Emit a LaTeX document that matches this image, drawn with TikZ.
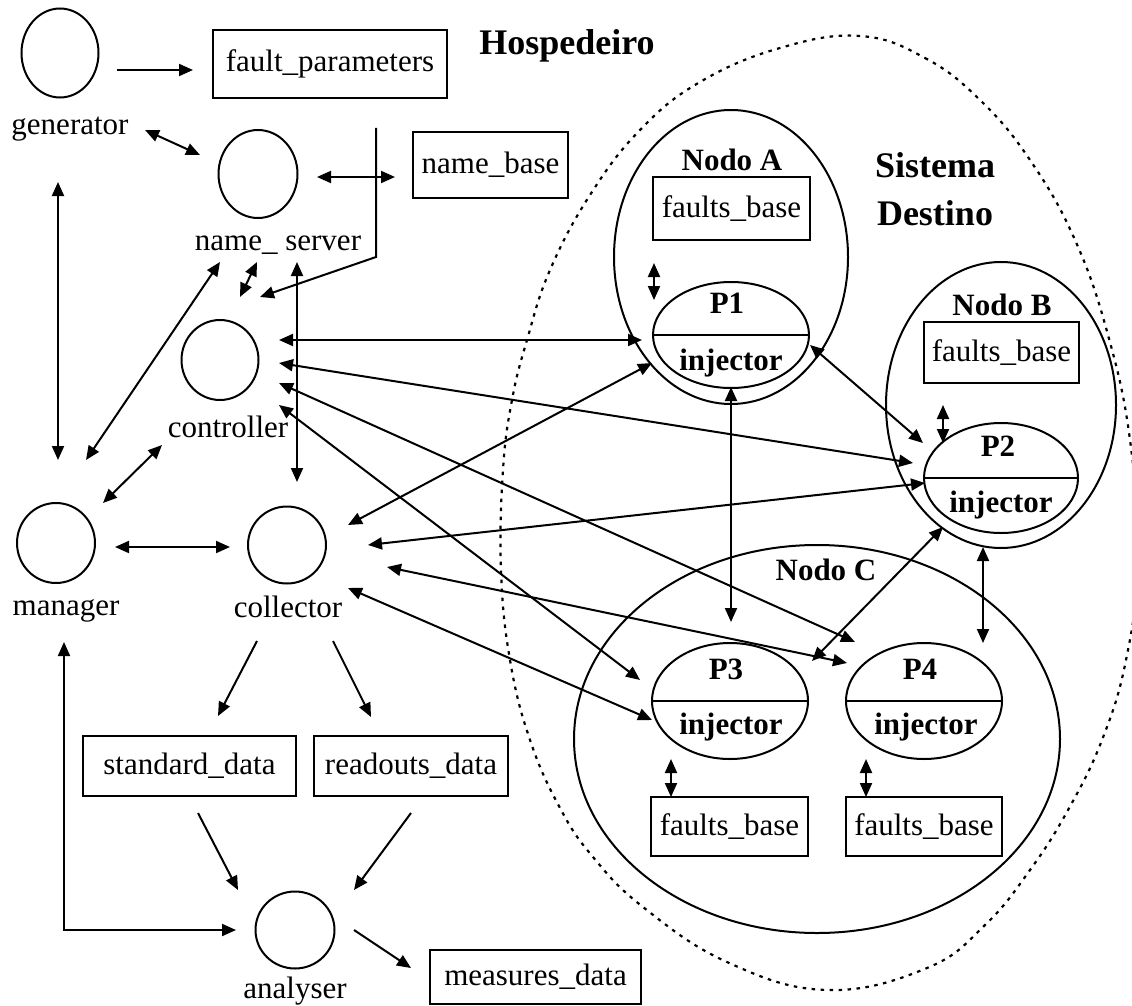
\documentclass[tikz,border=0pt]{standalone}
\usepackage{fontspec}
\setmainfont{Liberation Serif}
\usetikzlibrary{arrows.meta,shapes.geometric}
\begin{document}
\begin{tikzpicture}[x=1pt,y=-1pt,
  every node/.style={font=\fontsize{31pt}{37pt}\selectfont, inner sep=0pt},
  proc/.style={draw, ellipse, line width=2pt},
  store/.style={draw, rectangle, line width=2pt},
  host/.style={draw, ellipse, line width=2pt},
  lab/.style={anchor=base},
  blab/.style={anchor=base, font=\fontsize{31pt}{37pt}\selectfont\bfseries},
  title/.style={anchor=base, font=\fontsize{36pt}{42pt}\selectfont\bfseries},
  wire/.style={line width=2pt},
  link/.style={wire, -{Triangle[length=14pt,width=12pt]}},
  dlink/.style={wire, {Triangle[length=14pt,width=12pt]}-{Triangle[length=14pt,width=12pt]}},
  border/.style={line width=2.2pt, dash pattern=on 3.5pt off 5.5pt}
]
\fill[white] (0,0) rectangle (1132,1006);
\useasboundingbox (0,0) rectangle (1132,1006);

% ---------- host side: processes ----------
\node[proc, minimum width=77pt, minimum height=89pt] (gen)  at (60,53)   {};
\node[proc, minimum width=79pt, minimum height=88pt] (ns)   at (258,174) {};
\node[proc, minimum width=77pt, minimum height=80pt] (ctrl) at (220,360) {};
\node[proc, minimum width=78pt, minimum height=80pt] (mgr)  at (56,543)  {};
\node[proc, minimum width=78pt, minimum height=77pt] (coll) at (287,545) {};
\node[proc, minimum width=79pt, minimum height=77pt] (ana)  at (295,930) {};

\node[lab] (genl)  at (70,135)  {generator};
\node[lab] (nsl)   at (278,250) {name\_ server};
\node[lab] (ctrll) at (228,437) {controller};
\node[lab] (mgrl)  at (66,615)  {manager};
\node[lab] (colll) at (288,617) {collector};
\node[lab] (anal)  at (295,998) {analyser};

% ---------- host side: data stores ----------
\node[store, minimum width=234pt, minimum height=68pt] (fp) at (330,64)      {fault\_parameters};
\node[store, minimum width=155pt, minimum height=66pt] (nb) at (490.5,165)   {name\_base};
\node[store, minimum width=213pt, minimum height=60pt] (sd) at (189.5,766)   {standard\_data};
\node[store, minimum width=194pt, minimum height=60pt] (rd) at (411,766)     {readouts\_data};
\node[store, minimum width=211pt, minimum height=54pt] (md) at (535.5,977)   {measures\_data};

\node[title] (host) at (567,55) {Hospedeiro};

% ---------- target system ----------
\draw[border] plot[smooth cycle, tension=0.7] coordinates {
  (860,36) (925,58) (980,100) (1030,160) (1075,240) (1108,335) (1130,440)
  (1138,560) (1126,660) (1102,740) (1068,810) (1030,870) (985,925) (927,968)
  (827,990) (727,962) (643,907) (593,857) (560,808) (530,740) (510,660)
  (501,570) (503,470) (512,400) (527,340) (550,270) (590,195) (640,130)
  (700,82) (780,48)};
\node[title] (sis) at (935,177) {Sistema};
\node[title] (des) at (935,225) {Destino};

\node[host, minimum width=234pt, minimum height=294pt] (na) at (731,257) {};
\node[host, minimum width=230pt, minimum height=286pt] (nbB) at (1001,405) {};
\node[host, minimum width=486pt, minimum height=388pt] (nc) at (817,739) {};
\node[blab] (nal) at (732,170)  {Nodo A};
\node[blab] (nbl) at (1002,315) {Nodo B};
\node[blab] (ncl) at (826,580)  {Nodo C};

\node[store, minimum width=157pt, minimum height=63pt] (fba) at (731.5,208.5) {faults\_base};
\node[store, minimum width=155pt, minimum height=61pt] (fbb) at (1001.5,352.5) {faults\_base};
\node[store, minimum width=157pt, minimum height=59pt] (fb3) at (729.5,826.5) {faults\_base};
\node[store, minimum width=156pt, minimum height=59pt] (fb4) at (924,826.5)   {faults\_base};

% injector processes, each split by a line
\node[proc, minimum width=156pt, minimum height=106pt] (p1) at (731,335) {};
\node[proc, minimum width=154pt, minimum height=110pt] (p2) at (1001,478) {};
\node[proc, minimum width=156pt, minimum height=116pt] (p3) at (730,701) {};
\node[proc, minimum width=156pt, minimum height=116pt] (p4) at (924,701) {};
\foreach \p in {p1,p2,p3,p4} \draw[wire] (\p.west) -- (\p.east);

\node[blab] (p1a) at (727,313) {P1};
\node[blab] (p1b) at (731,370) {injector};
\node[blab] (p2a) at (998,456) {P2};
\node[blab] (p2b) at (1001,512) {injector};
\node[blab] (p3a) at (726,679) {P3};
\node[blab] (p3b) at (731,734) {injector};
\node[blab] (p4a) at (920,679) {P4};
\node[blab] (p4b) at (926,734) {injector};

% ---------- connector end points ----------
\coordinate (gen-fp) at (117,70);   \coordinate (fp-gen) at (193,70);
\coordinate (gen-ns) at (145,130);  \coordinate (ns-gen) at (200,155);
\coordinate (ns-nb)  at (317,177);  \coordinate (nb-ns)  at (395,177);
\coordinate (fp-out) at (376,128);  \coordinate (fp-bend) at (376,257);
\coordinate (ctrl-fp) at (260,297);
\coordinate (gen-mgr) at (58,182);  \coordinate (mgr-gen) at (58,460);
\coordinate (mgr-ns) at (86,460);   \coordinate (ns-mgr) at (220,262);
\coordinate (ctrl-ns) at (240,297); \coordinate (ns-ctrl) at (257,262);
\coordinate (ns-coll) at (297,262); \coordinate (coll-ns) at (297,482);
\coordinate (mgr-ctrl) at (103,503); \coordinate (ctrl-mgr) at (162,445);
\coordinate (mgr-coll) at (115,547); \coordinate (coll-mgr) at (230,547);
\coordinate (mgr-ana) at (64,642);  \coordinate (ana-bend) at (64,930);
\coordinate (ana-mgr) at (236,930);
\coordinate (coll-sd) at (257,641); \coordinate (sd-coll) at (218,716);
\coordinate (coll-rd) at (333,641); \coordinate (rd-coll) at (371,717);
\coordinate (sd-ana) at (198,813);  \coordinate (ana-sd) at (238,890);
\coordinate (rd-ana) at (411,813);  \coordinate (ana-rd) at (354,890);
\coordinate (ana-md) at (354,930);  \coordinate (md-ana) at (411,968);

\coordinate (ctrl-p1) at (279,340); \coordinate (p1-ctrl) at (642,340);
\coordinate (ctrl-p2) at (279,363); \coordinate (p2-ctrl) at (913,463);
\coordinate (ctrl-p4) at (279,383); \coordinate (p4-ctrl) at (855,642);
\coordinate (ctrl-p3) at (279,405); \coordinate (p3-ctrl) at (640,680);
\coordinate (coll-p1) at (348,525); \coordinate (p1-coll) at (652,363);
\coordinate (coll-p2) at (368,545); \coordinate (p2-coll) at (925,483);
\coordinate (coll-p4) at (387,567); \coordinate (p4-coll) at (847,663);
\coordinate (coll-p3) at (348,588); \coordinate (p3-coll) at (652,720);

\coordinate (fba-p1) at (654,263);  \coordinate (p1-fba) at (654,300);
\coordinate (p1-p2) at (810,345);   \coordinate (p2-p1) at (923,443);
\coordinate (p1-p3) at (731,387);   \coordinate (p3-p1) at (731,622);
\coordinate (fbb-p2) at (943,405);  \coordinate (p2-fbb) at (943,443);
\coordinate (p2-p3) at (943,527);   \coordinate (p3-p2) at (812,661);
\coordinate (p2-p4) at (983,547);   \coordinate (p4-p2) at (983,643);
\coordinate (p3-fb3) at (671,759);  \coordinate (fb3-p3) at (671,797);
\coordinate (p4-fb4) at (866,759);  \coordinate (fb4-p4) at (866,797);

% ---------- host connectors ----------
\draw[link]  (gen-fp) -- (fp-gen);
\draw[dlink] (gen-ns) -- (ns-gen);
\draw[dlink] (ns-nb) -- (nb-ns);
\draw[link]  (fp-out) -- (fp-bend) -- (ctrl-fp);
\draw[dlink] (gen-mgr) -- (mgr-gen);
\draw[dlink] (mgr-ns) -- (ns-mgr);
\draw[dlink] (ctrl-ns) -- (ns-ctrl);
\draw[dlink] (ns-coll) -- (coll-ns);
\draw[dlink] (mgr-ctrl) -- (ctrl-mgr);
\draw[dlink] (mgr-coll) -- (coll-mgr);
\draw[dlink] (mgr-ana) -- (ana-bend) -- (ana-mgr);
\draw[link]  (coll-sd) -- (sd-coll);
\draw[link]  (coll-rd) -- (rd-coll);
\draw[link]  (sd-ana) -- (ana-sd);
\draw[link]  (rd-ana) -- (ana-rd);
\draw[link]  (ana-md) -- (md-ana);

% ---------- host to target connectors ----------
\draw[dlink] (ctrl-p1) -- (p1-ctrl);
\draw[dlink] (ctrl-p2) -- (p2-ctrl);
\draw[dlink] (ctrl-p4) -- (p4-ctrl);
\draw[dlink] (ctrl-p3) -- (p3-ctrl);
\draw[dlink] (coll-p1) -- (p1-coll);
\draw[dlink] (coll-p2) -- (p2-coll);
\draw[dlink] (coll-p4) -- (p4-coll);
\draw[dlink] (coll-p3) -- (p3-coll);

% ---------- target connectors ----------
\draw[dlink] (fba-p1) -- (p1-fba);
\draw[dlink] (p1-p2) -- (p2-p1);
\draw[dlink] (p1-p3) -- (p3-p1);
\draw[dlink] (fbb-p2) -- (p2-fbb);
\draw[dlink] (p2-p3) -- (p3-p2);
\draw[dlink] (p2-p4) -- (p4-p2);
\draw[dlink] (p3-fb3) -- (fb3-p3);
\draw[dlink] (p4-fb4) -- (fb4-p4);
\end{tikzpicture}
\end{document}
